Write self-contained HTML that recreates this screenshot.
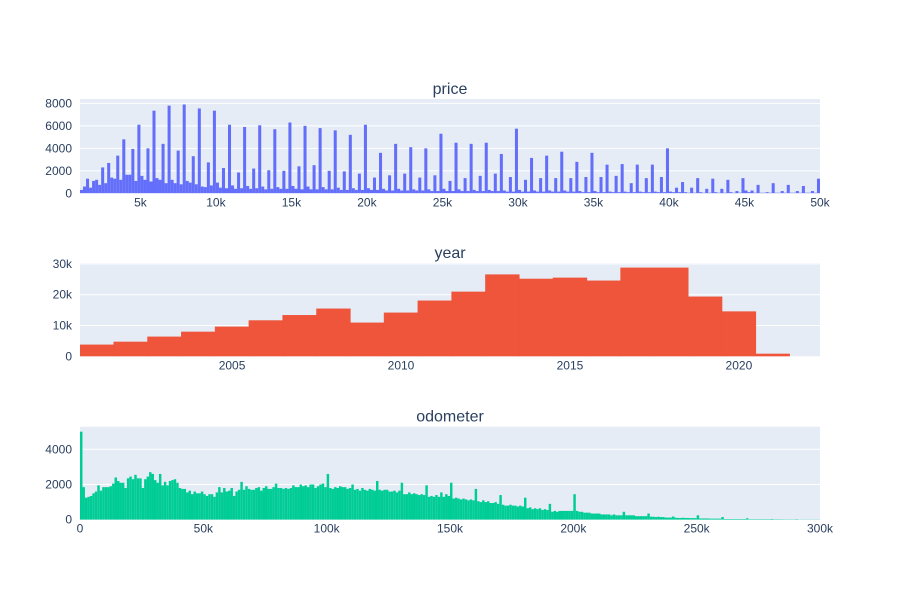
<!DOCTYPE html>
<html><head><meta charset="utf-8"><style>
html,body{margin:0;padding:0;background:#fff;}
svg{display:block;font-family:"Liberation Sans",Arial,sans-serif;}
</style></head><body>
<svg id="chart" width="900" height="600" viewBox="0 0 900 600"></svg>
<script>
const priceBinStart = 1000;
const priceBinWidth = 200;
const priceCounts = [300,600,1300,500,
1100,1200,750,2300,900, 2700,1400,1300,3350,1200, 4800,1650,1650,3950,1100,
6100,1550,1200,4000,1050, 7350,1350,1200,4400,900, 7800,1200,900,3800,800,
7900,1100,950,3300,800, 7550,600,550,2750,700,
7350,950,500,2250,450, 6100,700,400,1850,450, 5900,650,400,2200,450, 6050,600,350,2050,400,
5700,550,400,2000,400, 6300,650,400,2400,350, 6000,600,350,2500,350, 5800,550,350,2000,350,
5600,500,300,1950,300, 5200,450,300,1750,300, 6100,450,300,1400,300, 3600,400,250,1600,250,
4400,400,250,1750,250, 4100,350,250,1400,250, 4000,350,200,1600,200, 5300,400,200,1100,200,
4500,350,200,1350,200, 4400,300,200,1550,200, 4500,300,200,1750,200, 3500,250,150,1450,150,
5750,300,150,1200,150, 3150,250,150,1350,150, 3350,250,150,1350,150, 3700,250,150,1350,150,
2800,200,100,1450,100, 3600,200,100,1450,100, 2550,150,100,1550,100, 2600,150,100,900,100,
2550,150,100,1350,100, 2550,150,100,1450,100, 4000,150,100,500,100, 1000,100,50,500,50,
1350,100,50,400,50, 1300,100,50,400,50, 1200,100,50,200,50, 1350,250,100,250,50,
750,50,50,100,50, 900,50,50,200,50, 750,50,50,200,50, 650,50,50,200,50, 1300];
const priceXTicks = [5000,10000,15000,20000,25000,30000,35000,40000,45000,50000];
const priceXLabels = ["5k","10k","15k","20k","25k","30k","35k","40k","45k","50k"];
const priceYTicks = [0,2000,4000,6000,8000];
const priceYLabels = ["0","2000","4000","6000","8000"];

const yearBinStart = 2000.5;
const yearBinWidth = 1;
const yearCounts = [3700,4650,6300,7900,9550,11600,13300,15400,10850,14100,18000,20900,26500,25100,25450,24500,28700,28700,19300,14500,750];
const yearXTicks = [2005,2010,2015,2020];
const yearXLabels = ["2005","2010","2015","2020"];
const yearYTicks = [0,10000,20000,30000];
const yearYLabels = ["0","10k","20k","30k"];

const odoBinStart = 0;
const odoBinWidth = 1000;
const odoCounts = [5000,1850,1250,1300,1350,1500,1600,1950,1650,1850,
1850,1850,1900,2050,2400,2200,2100,2100,1800,2350,
2450,2300,2550,2350,2350,1800,2300,2450,2700,2600,
2250,2100,2600,1950,2150,1950,2200,2250,2300,2100,
1800,1750,1750,1550,1650,1450,1600,1500,1500,1600,
1450,1350,1450,1450,1300,1550,1850,1550,1800,1600,
1650,1800,1350,1600,1700,2150,1700,1900,1750,1700,
1700,1800,1850,1650,1800,1900,1750,1750,1850,2050,
1800,1800,1750,1800,1750,1800,1950,1850,1850,2000,
1900,1950,1850,2000,2000,1800,1900,2000,2050,1850,
2600,1800,1750,1850,1800,1900,1850,1850,1750,1800,
2000,1700,1750,1650,1800,1700,1650,1750,1700,1650,
2200,1700,1650,1700,1700,1600,1600,1650,1550,1650,
2100,1450,1450,1550,1450,1500,1450,1400,1450,1400,
1950,1300,1350,1300,1400,1300,1550,1300,1450,1350,
2100,1200,1250,1200,1150,1200,1150,1100,1150,1100,
1750,1050,1000,1100,1000,1050,950,950,1000,900,
1400,850,800,800,850,800,800,750,800,750,
1250,650,700,600,650,600,650,550,600,550,
900,450,500,450,500,500,500,500,500,500,
1450,500,450,450,400,400,400,350,350,350,
350,300,300,300,300,250,300,250,250,250,
450,250,250,250,250,200,200,200,200,200,
350,170,170,150,170,150,150,120,120,120,
180,110,100,100,110,100,100,90,90,90,
250,70,70,70,70,60,60,60,60,60,
150,40,40,40,40,40,40,40,40,40,
80,30,30,30,30,30,30,30,30,30,
40,25,25,25,25,20,20,20,20,20,
30,15,15,15,15,15,15,15,15,15];
const odoXTicks = [0,50000,100000,150000,200000,250000,300000];
const odoXLabels = ["0","50k","100k","150k","200k","250k","300k"];
const odoYTicks = [0,2000,4000];
const odoYLabels = ["0","2000","4000"];

const NS = "http://www.w3.org/2000/svg";
const svg = document.getElementById("chart");
function mk(tag, attrs, parent) {
  const e = document.createElementNS(NS, tag);
  for (const k in attrs) e.setAttribute(k, attrs[k]);
  (parent || svg).appendChild(e);
  return e;
}

function panel(cfg) {
  const g = mk("g", {});
  
  
  const L = 80, R = 820, T = cfg.top, B = cfg.bottom;
  const xs = v => L + (v - cfg.xmin) / (cfg.xmax - cfg.xmin) * (R - L);
  const ys = v => B - v / cfg.ymax * (B - T);
  const bg = mk("rect", {x: L, y: T, width: R - L, height: B - T, fill: "#E5ECF6"}, g);
  
  
  cfg.yTicks.forEach((t, i) => {
    const y = ys(t);
    if (t > 0) {
      const gl = mk("line", {x1: L, x2: R, y1: y, y2: y, stroke: "#fff", "stroke-width": 1}, g);
      
      
    }
    const tx = mk("text", {x: L - 8, y: y + 4, "text-anchor": "end", "font-size": 12, fill: "#2a3f5f"}, g);
    tx.textContent = cfg.yLabels[i];
    
    
  });
  const clip = mk("clipPath", {id: "clip-" + cfg.name}, g);
  mk("rect", {x: L, y: T, width: R - L, height: B - T}, clip);
  const bars = mk("g", {"clip-path": "url(#clip-" + cfg.name + ")"}, g);
  
  
  cfg.counts.forEach((c, i) => {
    const x0 = xs(cfg.binStart + i * cfg.binWidth);
    const x1 = xs(cfg.binStart + (i + 1) * cfg.binWidth);
    const attrs = {x: x0, y: ys(c), width: Math.max(0, x1 - x0), height: B - ys(c), fill: cfg.color};
    if (cfg.outline) { attrs.stroke = cfg.color; attrs["stroke-width"] = 0.6; }
    const r = mk("rect", attrs, bars);
    
    
  });
  cfg.xTicks.forEach((t, i) => {
    const tx = mk("text", {x: xs(t), y: B + 13, "text-anchor": "middle", "font-size": 12, fill: "#2a3f5f"}, g);
    tx.textContent = cfg.xLabels[i];
    
    
  });
  const title = mk("text", {x: 450, y: T - 5, "text-anchor": "middle", "font-size": 16, fill: "#2a3f5f"}, g);
  title.textContent = cfg.name;
  
  
}

panel({name: "price", top: 99, bottom: 193.3, xmin: 1000, xmax: 50000, ymax: 8390,
  counts: priceCounts, binStart: priceBinStart, binWidth: priceBinWidth, color: "#636efa",
  xTicks: priceXTicks, xLabels: priceXLabels, yTicks: priceYTicks, yLabels: priceYLabels});
panel({name: "year", top: 263, bottom: 356.3, xmin: 2000.5, xmax: 2022.4, ymax: 30300, outline: true,
  counts: yearCounts, binStart: yearBinStart, binWidth: yearBinWidth, color: "#EF553B",
  xTicks: yearXTicks, xLabels: yearXLabels, yTicks: yearYTicks, yLabels: yearYLabels});
panel({name: "odometer", top: 426.7, bottom: 519.7, xmin: 0, xmax: 300000, ymax: 5284,
  counts: odoCounts, binStart: odoBinStart, binWidth: odoBinWidth, color: "#00cc96",
  xTicks: odoXTicks, xLabels: odoXLabels, yTicks: odoYTicks, yLabels: odoYLabels});
</script>
</body></html>
